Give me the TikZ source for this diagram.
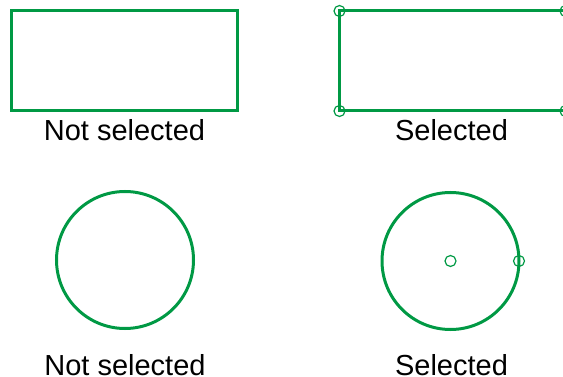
\documentclass[tikz,border=0pt]{standalone}
\usepackage{fontspec}
\setmainfont{Liberation Sans}
\usetikzlibrary{positioning, calc}
\definecolor{selgreen}{RGB}{0,153,68}

\begin{document}
\begin{tikzpicture}[
    x=1pt, y=-1pt,          % 画像のピクセル座標（左上が原点）
    shape line/.style={draw=selgreen, line width=3pt, inner sep=0pt, outer sep=0pt},
    handle/.style={circle, draw=selgreen, line width=1.2pt, inner sep=0pt, minimum size=11pt},
    caption/.style={font=\fontsize{29}{34}\selectfont, inner sep=0pt, anchor=base}
]

    % --- 0. 描画範囲 ---
    \useasboundingbox (0,0) rectangle (563,377);
    \clip (0,0) rectangle (563,377);

    % --- 1. 四角形 ---
    % 【未選択】
    \node [shape line, rectangle, minimum width=226pt, minimum height=100pt] (rect_off) at (124.5, 61) {};
    % 【選択中】（右端は画面外へ抜ける）
    \node [shape line, rectangle, minimum width=226pt, minimum height=100pt] (rect_on) at (452.5, 61) {};
    \foreach \c/\n in {north west/nw, south west/sw, north east/ne, south east/se}
        \node [handle] (rect_on_\n) at (rect_on.\c) {};

    % --- 2. 円 ---
    % 【未選択】
    \node [shape line, circle, minimum size=137pt] (circ_off) at (125, 260) {};
    % 【選択中】（中心と半径のハンドル）
    \node [shape line, circle, minimum size=137pt] (circ_on) at (450.5, 261) {};
    \node [handle] (circ_on_c) at (circ_on.center) {};
    \node [handle] (circ_on_r) at (circ_on.east) {};

    % --- 3. ラベル ---
    \node [caption] (lbl_rect_off) at ($(rect_off.south)+(0,30)$) {Not selected};
    \node [caption] (lbl_rect_on)  at ($(rect_on.south)+(-1,30)$) {Selected};
    \node [caption] (lbl_circ_off) at ($(circ_off.south)+(0,46.5)$) {Not selected};
    \node [caption] (lbl_circ_on)  at ($(circ_on.south)+(1,45.5)$) {Selected};

\end{tikzpicture}
\end{document}
